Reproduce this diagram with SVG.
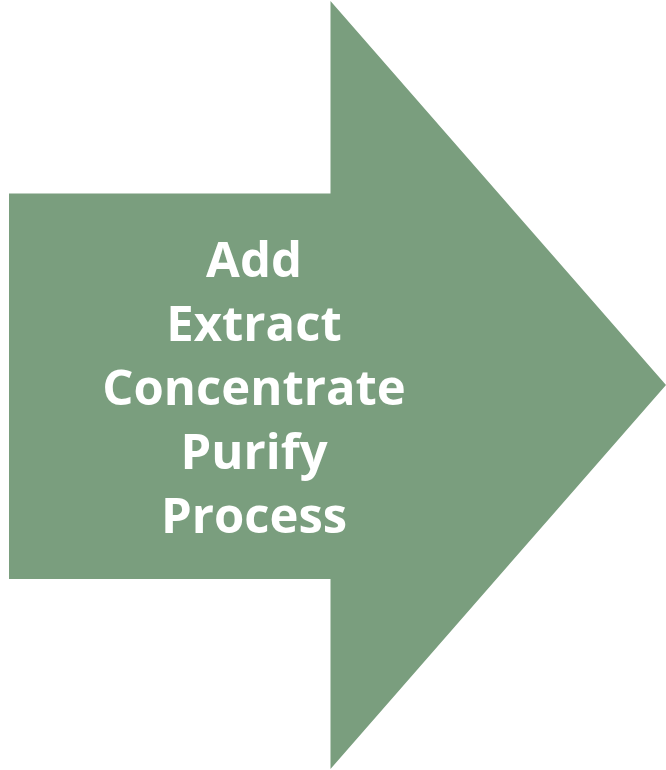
<svg xmlns="http://www.w3.org/2000/svg" width="666" height="770" viewBox="0 0 666 770">
<style>
.lbl{font-family:"Open Sans","Noto Sans","DejaVu Sans",sans-serif;font-weight:bold;font-size:49px;fill:#ffffff;text-anchor:middle}
</style>
<rect width="666" height="770" fill="#ffffff"/>
<g id="arrow">
<polygon points="9,193.5 330.5,193.5 330.5,1 666,385 330.5,769 330.5,579 9,579" fill="#7a9e7e"/>
<text class="lbl" x="254" y="277">Add</text>
<text class="lbl" x="254" y="341">Extract</text>
<text class="lbl" x="254" y="405">Concentrate</text>
<text class="lbl" x="254" y="469">Purify</text>
<text class="lbl" x="254" y="533">Process</text>
</g>
<g id="connectors"></g>
</svg>
